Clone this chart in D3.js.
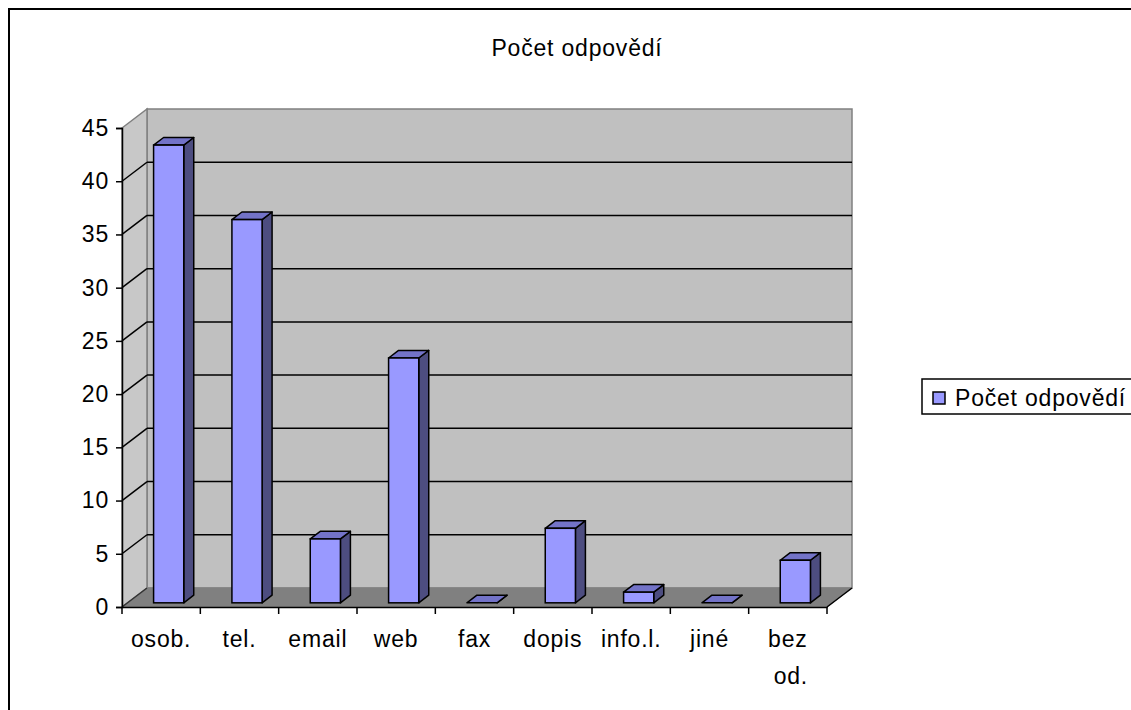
<!DOCTYPE html>
<html>
<head>
<meta charset="utf-8">
<script src="https://cdn.jsdelivr.net/npm/d3@7"></script>
<style>
  html, body { margin: 0; padding: 0; background: #fff; overflow: hidden; }
  svg text { font-family: "Liberation Sans", Arial, sans-serif; fill: #000; letter-spacing: 0.8px; }
</style>
</head>
<body>
<svg id="chart" width="1131" height="710"></svg>
<script>
// data
const categories = ['osob.', 'tel.', 'email', 'web', 'fax', 'dopis', 'info.l.', 'jiné', 'bez od.'];
const values = [43, 36, 6, 23, 0, 7, 1, 0, 4];
const yTicks = [0, 5, 10, 15, 20, 25, 30, 35, 40, 45];
const seriesName = 'Počet odpovědí';
const title = 'Počet odpovědí';

(function () {
  'use strict';

  const svg = d3.select('#chart');
  const FS = 23;

  // 3d depth offset of the floor / walls
  const DX = 25;
  const DY = -19;
  // bar sits between these depth fractions
  const F0 = 0.22;
  const F1 = 0.62;

  const x = d3.scaleBand()
    .domain(categories)
    .range([122, 827]);

  const y = d3.scaleLinear()
    .domain([0, 45])
    .range([607, 128]);

  const x0 = x.range()[0];
  const x1 = x.range()[1];
  const y0 = y(0);
  const yTop = y(45);

  const pts = function (a) { return a.map(function (p) { return p.join(','); }).join(' '); };

  // outer chart border
  svg.append('rect')
    .attr('x', 9).attr('y', 9)
    .attr('width', 1300).attr('height', 900)
    .attr('fill', 'none')
    .attr('stroke', '#000')
    .attr('stroke-width', 2);

  svg.append('text')
    .attr('x', 577)
    .attr('y', 56)
    .attr('text-anchor', 'middle')
    .attr('font-size', FS)
    .text(title);

  // walls and floor
  svg.append('polygon')
    .attr('points', pts([[x0 + DX, yTop + DY], [x1 + DX, yTop + DY], [x1 + DX, y0 + DY], [x0 + DX, y0 + DY]]))
    .attr('fill', '#c0c0c0').attr('stroke', '#808080').attr('stroke-width', 1.5);
  svg.append('polygon')
    .attr('points', pts([[x0, yTop], [x0 + DX, yTop + DY], [x0 + DX, y0 + DY], [x0, y0]]))
    .attr('fill', '#c8c8c8').attr('stroke', '#808080').attr('stroke-width', 1.5);
  svg.append('polygon')
    .attr('points', pts([[x0, y0], [x0 + DX, y0 + DY], [x1 + DX, y0 + DY], [x1, y0]]))
    .attr('fill', '#808080').attr('stroke', '#808080').attr('stroke-width', 1);

  // gridlines on back wall + diagonals on the side wall
  const grid = svg.append('g');
  yTicks.filter(function (t) { return t > 0 && t < 45; }).forEach(function (t) {
    grid.append('line')
      .attr('x1', x0 + DX).attr('x2', x1 + DX)
      .attr('y1', y(t) + DY).attr('y2', y(t) + DY)
      .attr('stroke', '#000').attr('stroke-width', 1.5);
    grid.append('line')
      .attr('x1', x0).attr('x2', x0 + DX)
      .attr('y1', y(t)).attr('y2', y(t) + DY)
      .attr('stroke', '#000').attr('stroke-width', 1.5);
  });
  grid.append('line')
    .attr('x1', x0).attr('x2', x0 + DX)
    .attr('y1', y0).attr('y2', y0 + DY)
    .attr('stroke', '#333').attr('stroke-width', 1.5);
  grid.append('line')
    .attr('x1', x1).attr('x2', x1 + DX)
    .attr('y1', y0).attr('y2', y0 + DY)
    .attr('stroke', '#000').attr('stroke-width', 1.5);

  // bars
  const bw = x.bandwidth() * 0.385;
  const fx = DX * F0, fy = DY * F0;
  const bx = DX * (F1 - F0), by = DY * (F1 - F0);

  const bars = svg.append('g')
    .selectAll('g')
    .data(categories.map(function (c, i) { return { c: c, v: values[i] }; }))
    .enter().append('g');

  bars.each(function (d) {
    const g = d3.select(this);
    const l = x(d.c) + (x.bandwidth() - bw) / 2 + fx + 2;
    const r = l + bw;
    const t = y(d.v) + fy;
    const b = y0 + fy;
    g.append('polygon')
      .attr('points', pts([[r, t], [r + bx, t + by], [r + bx, b + by], [r, b]]))
      .attr('fill', '#4d4d80').attr('stroke', '#000').attr('stroke-width', 1.5)
      .attr('stroke-linejoin', 'round');
    g.append('polygon')
      .attr('points', pts([[l, t], [l + bx, t + by], [r + bx, t + by], [r, t]]))
      .attr('fill', '#7373c8').attr('stroke', '#000').attr('stroke-width', 1.5)
      .attr('stroke-linejoin', 'round');
    if (d.v > 0) {
      g.append('rect')
        .attr('x', l).attr('y', t)
        .attr('width', bw).attr('height', b - t)
        .attr('fill', '#9999ff').attr('stroke', '#000').attr('stroke-width', 1.5);
    }
  });

  // y axis
  const yAxis = svg.append('g')
    .attr('transform', 'translate(' + x0 + ',0)')
    .call(d3.axisLeft(y).tickValues(yTicks).tickSize(6).tickPadding(7));
  yAxis.select('.domain').attr('stroke', '#000').attr('stroke-width', 1.5);
  yAxis.selectAll('.tick line').attr('stroke', '#000').attr('stroke-width', 1.5);
  yAxis.selectAll('.tick text').attr('font-size', FS).attr('font-family', '"Liberation Sans", Arial, sans-serif');

  // x axis
  const xAxis = svg.append('g')
    .attr('transform', 'translate(0,' + y0 + ')')
    .call(d3.axisBottom(x).tickSize(0).tickFormat(''));
  xAxis.select('.domain').attr('stroke', '#000').attr('stroke-width', 1.5);
  categories.forEach(function (c) {
    xAxis.append('line')
      .attr('x1', x(c) + x.bandwidth()).attr('x2', x(c) + x.bandwidth())
      .attr('y1', 0).attr('y2', 7)
      .attr('stroke', '#000').attr('stroke-width', 1.5);
  });
  xAxis.append('line')
    .attr('x1', x0).attr('x2', x0).attr('y1', 0).attr('y2', 7)
    .attr('stroke', '#000').attr('stroke-width', 1.5);

  const labels = svg.append('g')
    .selectAll('text')
    .data(categories)
    .enter().append('text')
    .attr('x', function (d) { return x(d) + x.bandwidth() / 2; })
    .attr('y', y0 + 40)
    .attr('text-anchor', 'middle')
    .attr('font-size', FS);
  labels.each(function (d) {
    const parts = d.split(' ');
    const el = d3.select(this);
    parts.forEach(function (p, i) {
      el.append('tspan')
        .attr('x', x(d) + x.bandwidth() / 2 + (i ? 3 : 0))
        .attr('dy', i ? 37 : 0)
        .text(p);
    });
  });

  // legend
  const lg = svg.append('g').attr('transform', 'translate(922,379)');
  lg.append('rect')
    .attr('x', 0).attr('y', 0)
    .attr('width', 260).attr('height', 35)
    .attr('fill', '#fff').attr('stroke', '#000').attr('stroke-width', 1.5);
  lg.append('rect')
    .attr('x', 11).attr('y', 13)
    .attr('width', 12).attr('height', 12)
    .attr('fill', '#9999ff').attr('stroke', '#000').attr('stroke-width', 1.5);
  lg.append('text')
    .attr('x', 33).attr('y', 27)
    .attr('font-size', FS)
    .text(seriesName);
})();
</script>
</body>
</html>
